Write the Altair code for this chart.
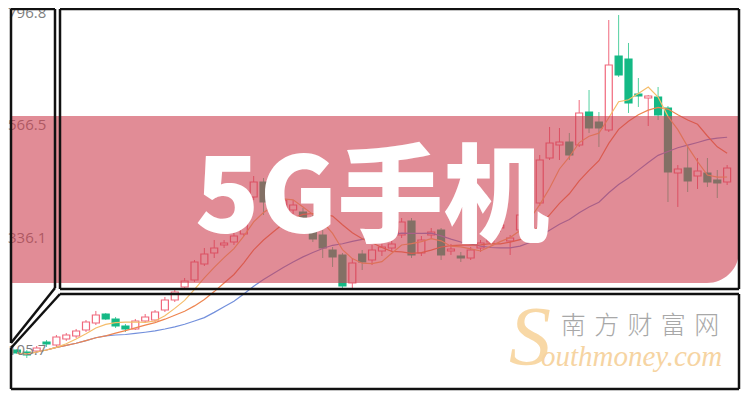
import altair as alt
import pandas as pd

# ---- data ----
days = list(range(73))
opens = [105.7, 101.6, 103.6, 122.1, 115.9, 128.3, 134.4, 146.7, 161.1, 179.5,
         169.3, 154.9, 148.8, 165.2, 167.2, 187.7, 208.2, 234.9, 249.2, 282.0,
         304.6, 321.0, 327.1, 343.5, 419.4, 450.1, 423.5, 388.6, 392.7, 388.6,
         372.2, 341.5, 310.7, 300.5, 243.0, 302.5, 290.2, 308.7, 314.8, 341.5,
         370.2, 304.6, 341.5, 351.7, 308.7, 298.4, 294.3, 314.8, 327.1, 355.8,
         329.2, 351.7, 396.8, 407.1, 499.3, 526.0, 532.1, 526.0, 593.6, 573.1,
         556.7, 708.4, 702.3, 630.5, 622.3, 624.4, 601.8, 468.6, 478.8, 462.4,
         468.6, 454.2, 450.1]
highs = [107.8, 105.7, 113.9, 126.2, 136.5, 140.6, 148.8, 167.2, 185.7, 181.6,
         173.4, 159.0, 169.3, 179.5, 187.7, 214.4, 230.8, 253.3, 290.2, 314.8,
         331.2, 331.2, 345.6, 417.3, 462.4, 458.3, 433.7, 421.4, 413.2, 396.8,
         382.5, 351.7, 316.9, 304.6, 294.3, 310.7, 321.0, 325.1, 331.2, 376.3,
         376.3, 339.4, 355.8, 355.8, 323.0, 306.6, 316.9, 331.2, 353.8, 368.1,
         341.5, 388.6, 454.2, 505.5, 562.9, 560.8, 550.6, 618.2, 638.7, 593.6,
         782.2, 792.5, 735.1, 663.3, 628.5, 644.9, 605.9, 484.9, 526.0, 499.3,
         499.3, 474.7, 484.9]
lows = [97.5, 89.3, 99.6, 111.9, 111.9, 124.2, 130.3, 142.6, 156.9, 167.2,
        150.8, 142.6, 146.7, 161.1, 163.1, 183.6, 204.1, 228.7, 245.1, 277.9,
        294.3, 314.8, 321.0, 339.4, 413.2, 382.5, 384.5, 380.4, 384.5, 368.1,
        327.1, 294.3, 275.9, 232.8, 232.8, 269.7, 280.0, 298.4, 306.6, 335.3,
        294.3, 298.4, 335.3, 290.2, 300.5, 286.1, 290.2, 306.6, 323.0, 347.6,
        300.5, 345.6, 382.5, 400.9, 495.2, 495.2, 495.2, 521.9, 550.6, 521.9,
        552.6, 665.4, 591.6, 603.9, 564.9, 577.2, 409.1, 398.9, 429.6, 435.8,
        439.9, 417.3, 444.0]
closes = [99.6, 95.5, 109.8, 118.0, 132.4, 136.5, 144.7, 163.1, 177.5, 169.3,
          154.9, 148.8, 165.2, 173.4, 183.6, 208.2, 224.6, 247.2, 286.1, 302.5,
          314.8, 325.1, 339.4, 413.2, 450.1, 409.1, 392.7, 413.2, 403.0, 376.3,
          333.3, 314.8, 296.4, 236.9, 284.1, 286.1, 310.7, 316.9, 323.0, 368.1,
          300.5, 331.2, 347.6, 300.5, 312.8, 294.3, 310.7, 325.1, 347.6, 361.9,
          335.3, 382.5, 444.0, 495.2, 530.1, 532.1, 505.5, 591.6, 560.8, 560.8,
          690.0, 669.5, 612.1, 626.4, 626.4, 587.5, 470.6, 476.8, 452.2, 472.7,
          450.1, 448.1, 478.8]
axis_labels = [796.8, 566.5, 336.1, 105.7]
title_text = "5G手机"
watermark_cn = "南\u2004方\u2004财\u2004富\u2004网"
watermark_s = "S"
watermark_en = "outhmoney.com"

df = pd.DataFrame({"i": days, "o": opens, "h": highs, "l": lows, "c": closes})
df["dir"] = ["up" if c >= o else "down" for o, c in zip(opens, closes)]
one = pd.DataFrame({"k": [0]})

W, H = 734, 384
xs = alt.Scale(domain=[-0.4, 73.0], nice=False, zero=False)
ys = alt.Scale(domain=[19.6, 806.8], nice=False, zero=False)
X = alt.X("i:Q", scale=xs, axis=None)

base = alt.Chart(df)
wick = base.mark_rule(strokeWidth=1).encode(
    x=X,
    y=alt.Y("l:Q", scale=ys, axis=None),
    y2="h:Q",
    color=alt.Color("dir:N", scale=alt.Scale(domain=["up", "down"], range=["#f0687c", "#52d1a0"]), legend=None),
)
body = base.mark_bar(size=7, strokeWidth=1.2).encode(
    x=X,
    y=alt.Y("o:Q", scale=ys, axis=None),
    y2="c:Q",
    fill=alt.Fill("dir:N", scale=alt.Scale(domain=["up", "down"], range=["#ffffff", "#14b985"]), legend=None),
    stroke=alt.Stroke("dir:N", scale=alt.Scale(domain=["up", "down"], range=["#f0687c", "#14b985"]), legend=None),
)


def ma_line(n, color):
    return base.transform_window(
        ma="mean(c)", frame=[-(n - 1), 0], sort=[alt.SortField("i")]
    ).mark_line(strokeWidth=1.2, color=color).encode(
        x=X, y=alt.Y("ma:Q", scale=ys, axis=None)
    )


ma5 = ma_line(5, "#f5bd6a")
ma10 = ma_line(10, "#ee8550")
ma20 = ma_line(20, "#7390dc")

labels = alt.Chart(pd.DataFrame({"v": axis_labels})).mark_text(
    align="left", baseline="middle", fontSize=15, color="#7f7f7f", font="Open Sans"
).encode(
    x=alt.value(0),
    y=alt.Y("v:Q", scale=ys, axis=None),
    text=alt.Text("v:Q", format=".1f"),
)

banner = alt.Chart(one).mark_rect(
    color="#cd3f50", opacity=0.6, cornerRadiusBottomRight=32
).encode(x=alt.value(2), x2=alt.value(731), y=alt.value(108), y2=alt.value(275))

title = alt.Chart(one).mark_text(
    text=title_text, font="Noto Sans CJK SC", fontWeight=900, fontSize=106,
    color="#ffffff", align="center", baseline="middle"
).encode(x=alt.value(364), y=alt.value(193))


def seg(x1, y1, x2, y2):
    return alt.Chart(one).mark_rule(color="#111111", strokeWidth=2.5).encode(
        x=alt.value(x1), y=alt.value(y1), x2=alt.value(x2), y2=alt.value(y2)
    )


frames = [
    seg(3, 1, 47, 1), seg(3, 1, 3, 335), seg(47, 1, 47, 280), seg(47, 280, 3, 335),
    seg(52, 1, 731, 1), seg(52, 1, 52, 281), seg(731, 1, 731, 281), seg(52, 281, 731, 281),
    seg(52, 286, 731, 286), seg(731, 286, 731, 381), seg(3, 381, 731, 381),
    seg(3, 340, 3, 381), seg(52, 286, 3, 340),
]

wm_s = alt.Chart(one).mark_text(
    text=watermark_s, font="Liberation Serif", fontStyle="italic", fontSize=84,
    color="#f8d8a6", align="center", baseline="middle"
).encode(x=alt.value(522), y=alt.value(332))
wm_cn = alt.Chart(one).mark_text(
    text=watermark_cn, font="Noto Sans CJK SC", fontWeight=300, fontSize=25,
    color="#a8a8a8", align="center", baseline="middle"
).encode(x=alt.value(632), y=alt.value(318))
wm_en = alt.Chart(one).mark_text(
    text=watermark_en, font="Liberation Serif", fontStyle="italic", fontSize=29,
    color="#f6d4a2", align="left", baseline="alphabetic"
).encode(x=alt.value(533), y=alt.value(358))

chart = alt.layer(
    wick, body, ma20, ma10, ma5, labels, banner, title, *frames, wm_s, wm_cn, wm_en
).properties(
    width=W, height=H, padding=0, autosize=alt.AutoSizeParams(type="none")
).configure_view(strokeWidth=0)

chart.save("out.html", embed_options={"renderer": "svg", "actions": False})
